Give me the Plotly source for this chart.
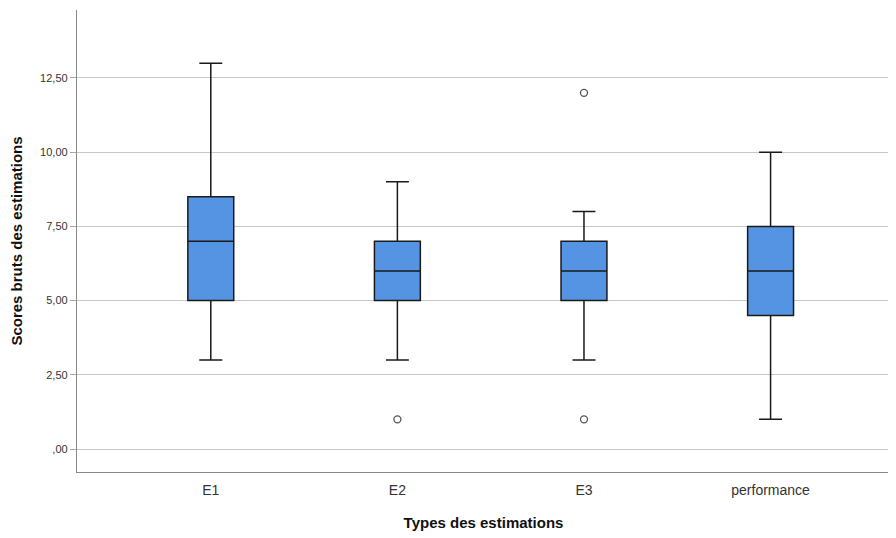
import plotly.graph_objects as go

categories = ["E1", "E2", "E3", "performance"]
q1 = [5.0, 5.0, 5.0, 4.5]
median = [7.0, 6.0, 6.0, 6.0]
q3 = [8.5, 7.0, 7.0, 7.5]
lower = [3.0, 3.0, 3.0, 1.0]
upper = [13.0, 9.0, 8.0, 10.0]

outlier_x = ["E2", "E3", "E3"]
outlier_y = [1.0, 1.0, 12.0]

tick_vals = [0, 2.5, 5, 7.5, 10, 12.5]
tick_text = [",00", "2,50", "5,00", "7,50", "10,00", "12,50"]

fig = go.Figure()
fig.add_trace(go.Box(
    x=categories, q1=q1, median=median, q3=q3,
    lowerfence=lower, upperfence=upper,
    fillcolor="#5594E2",
    line=dict(color="#1a1a1a", width=1.5),
    width=0.246, whiskerwidth=0.5,
    boxpoints=False, showlegend=False, hoverinfo="skip",
))
fig.add_trace(go.Scatter(
    x=outlier_x, y=outlier_y, mode="markers",
    marker=dict(symbol="circle-open", size=7, color="#555555", line=dict(width=1.3)),
    showlegend=False, hoverinfo="skip",
))

fig.update_layout(
    width=888, height=530,
    margin=dict(l=69, r=6, t=2, b=66),
    plot_bgcolor="white", paper_bgcolor="white",
    font=dict(family="Arial, Liberation Sans, sans-serif", color="#222222"),
)
fig.update_xaxes(
    categoryorder="array", categoryarray=categories,
    range=[-0.717, 3.64],
    showgrid=False, zeroline=False,
    showline=True, linecolor="#888888", linewidth=1.3,
    ticks="", tickfont=dict(size=14, color="#333333"),
    ticklabelstandoff=5,
    title=dict(text="<b>Types des estimations</b>", font=dict(size=15, color="#111111"), standoff=20),
)
fig.update_yaxes(
    range=[-0.775, 14.79],
    tickvals=tick_vals, ticktext=tick_text,
    showgrid=True, gridcolor="#c8c8c8", gridwidth=1,
    zeroline=False,
    showline=True, linecolor="#888888", linewidth=1.3,
    ticks="outside", ticklen=6, tickcolor="#aaaaaa",
    tickfont=dict(size=11, color="#333333"),
    title=dict(text="<b>Scores bruts des estimations</b>", font=dict(size=15, color="#111111"), standoff=14),
)

fig.write_html("out.html")
